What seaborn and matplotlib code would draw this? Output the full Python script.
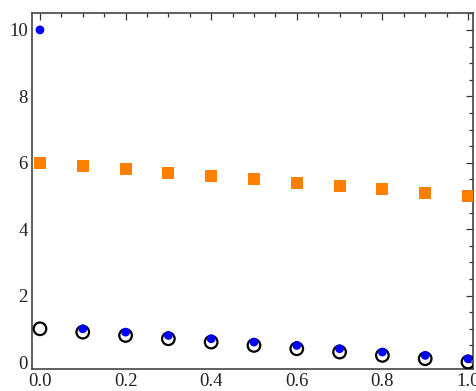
import matplotlib
matplotlib.use("Agg")
import matplotlib.pyplot as plt
from matplotlib.ticker import MultipleLocator
import seaborn as sns
import pandas as pd

x_vals = [0.0, 0.1, 0.2, 0.3, 0.4, 0.5, 0.6, 0.7, 0.8, 0.9, 1.0]
blue_vals = [10.0, 1.0, 0.9, 0.8, 0.7, 0.6, 0.5, 0.4, 0.3, 0.2, 0.1]
orange_vals = [6.0, 5.9, 5.8, 5.7, 5.6, 5.5, 5.4, 5.3, 5.2, 5.1, 5.0]
circle_vals = [1.0, 0.9, 0.8, 0.7, 0.6, 0.5, 0.4, 0.3, 0.2, 0.1, 0.0]

sns.set_style("white")
plt.rcParams['font.family'] = ['Liberation Serif', 'DejaVu Serif']

df = pd.DataFrame({"x": x_vals, "blue": blue_vals, "orange": orange_vals, "circle": circle_vals})

fig = plt.figure(figsize=(4.77, 3.91), dpi=100)
ax = fig.add_axes([0.067, 0.0563, 0.9246, 0.9105])

sns.scatterplot(data=df, x="x", y="orange", ax=ax, marker="s", s=74, color="#FF8000",
                edgecolor="none", linewidth=0, zorder=3)
sns.scatterplot(data=df, x="x", y="circle", ax=ax, marker="o", s=82, facecolor="none",
                edgecolor="black", linewidth=1.6, zorder=3)
sns.scatterplot(data=df, x="x", y="blue", ax=ax, marker="o", s=40, color="#0000FF",
                edgecolor="none", linewidth=0, zorder=4)

ax.set_xlim(-0.0187, 1.0117)
ax.set_ylim(-0.21, 10.51)
ax.xaxis.set_major_locator(MultipleLocator(0.2))
ax.xaxis.set_minor_locator(MultipleLocator(0.05))
ax.yaxis.set_major_locator(MultipleLocator(2))
ax.yaxis.set_minor_locator(MultipleLocator(0.5))
ax.xaxis.set_major_formatter(matplotlib.ticker.FormatStrFormatter('%.1f'))
ax.yaxis.set_major_formatter(matplotlib.ticker.FormatStrFormatter('%d'))
ax.tick_params(which='both', direction='in', top=True, right=True, colors='#333333',
               labelcolor='#222222', labelsize=13.5, width=0.9)
ax.tick_params(which='major', length=5, pad=3)
ax.tick_params(which='minor', length=2.8)
ax.set_xlabel("")
ax.set_ylabel("")
for sp in ax.spines.values():
    sp.set_visible(True)
    sp.set_color('#444444')
    sp.set_linewidth(1.2)

fig.savefig("out.png", dpi=100)
